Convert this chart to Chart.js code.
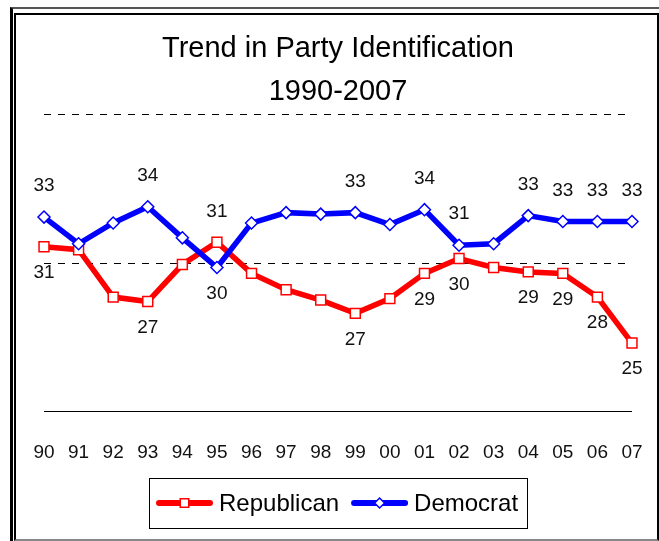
<!DOCTYPE html>
<html>
<head>
<meta charset="utf-8">
<title>Trend in Party Identification</title>
<script src="https://cdn.jsdelivr.net/npm/chart.js@4.4.1/dist/chart.umd.min.js"></script>
<style>
  body { margin: 0; background: #fff; }
  #wrap { position: relative; width: 659px; height: 541px; }
  #wrap canvas { position: absolute; left: 0; top: 0; }
  .frame-outer { position: absolute; left: 10px; top: 7px; width: 649px; height: 534px;
    border-left: 3px solid #000; border-top: 2px solid #555; box-sizing: border-box; }
  .frame-inner { position: absolute; left: 14px; top: 13px; width: 645px; height: 528px;
    border: 2px solid #000; border-bottom-color: #888; box-sizing: border-box; }
</style>
</head>
<body>
<div id="wrap">
  <canvas id="myChart" width="659" height="541"></canvas>
  <div class="frame-outer"></div>
  <div class="frame-inner"></div>
</div>
<script>
const years=["90","91","92","93","94","95","96","97","98","99","00","01","02","03","04","05","06","07"];
const republican=[31.1,30.9,27.7,27.4,29.9,31.4,29.3,28.2,27.5,26.6,27.6,29.3,30.3,29.7,29.4,29.3,27.7,24.6];
const democrat=[33.1,31.3,32.7,33.8,31.7,29.7,32.7,33.4,33.3,33.4,32.6,33.6,31.2,31.3,33.2,32.8,32.8,32.8];
// which points get a value label, and on which side
const repLabels=["b","","","b","","a","","","","b","","b","b","","b","b","b","b"];
const demLabels=["a","","","a","","b","","","","a","","a","a","","a","a","a","a"];
const yTicks=[20,30,40];

const FONT="'Liberation Sans', Arial, sans-serif";
const RED="#ff0000";
const BLUE="#0000ff";

// rounded values over/under the points
const valueLabels={
  id:"valueLabels",
  afterDatasetsDraw(chart){
    const c=chart.ctx;
    c.save();
    c.font="19px "+FONT;
    c.fillStyle="#111";
    c.textAlign="center";
    c.textBaseline="middle";
    chart.data.datasets.forEach((ds,i)=>{
      chart.getDatasetMeta(i).data.forEach((pt,j)=>{
        const side=ds.labelSide[j];
        if(!side) return;
        const dy= side=="a" ? -31 : 26;
        c.fillText(Math.round(ds.data[j]),pt.x,pt.y+dy);
      });
    });
    c.restore();
  }
};

// legend in a box under the axis labels
const boxLegend={
  id:"boxLegend",
  afterDraw(chart){
    const c=chart.ctx;
    c.save();
    c.font="24px "+FONT;
    const lineLen=57, gap=6, itemGap=12, padL=7, padR=9;
    const items=chart.data.datasets.map(ds=>({ds:ds,w:c.measureText(ds.label).width}));
    let total=padL+padR+itemGap*(items.length-1);
    items.forEach(it=>{ total+=lineLen+gap+it.w; });
    const mid=(chart.chartArea.left+chart.chartArea.right)/2;
    let x=Math.round(mid-total/2);
    const top=478, h=50, cy=top+h/2;
    c.strokeStyle="#000";
    c.lineWidth=1;
    c.strokeRect(x+0.5,top+0.5,Math.round(total),h);
    x+=padL;
    items.forEach(it=>{
      const ds=it.ds;
      c.strokeStyle=ds.borderColor;
      c.lineWidth=6;
      c.lineCap="round";
      c.beginPath();
      c.moveTo(x+3,cy);
      c.lineTo(x+lineLen-3,cy);
      c.stroke();
      c.fillStyle="#fff";
      c.lineWidth=ds.pointBorderWidth;
      Chart.helpers.drawPoint(c,{pointStyle:ds.pointStyle,radius:ds.pointRadius-1,borderWidth:ds.pointBorderWidth,rotation:0},x+lineLen/2,cy);
      c.fillStyle="#000";
      c.textAlign="left";
      c.textBaseline="middle";
      c.fillText(ds.label,x+lineLen+gap,cy+1);
      x+=lineLen+gap+it.w+itemGap;
    });
    c.restore();
  }
};

const ctx=document.getElementById("myChart");
const myChart=new Chart(ctx,{
  type:"line",
  data:{
    labels:years,
    datasets:[{
      label:"Republican",
      data:republican,
      labelSide:repLabels,
      order:1,
      borderColor:RED,
      borderWidth:5.5,
      pointStyle:"rect",
      pointRadius:7,
      pointBackgroundColor:"#fff",
      pointBorderColor:RED,
      pointBorderWidth:1.5,
      tension:0
    },{
      label:"Democrat",
      data:democrat,
      labelSide:demLabels,
      order:0,
      borderColor:BLUE,
      borderWidth:5.5,
      pointStyle:"rectRot",
      pointRadius:6,
      pointBackgroundColor:"#fff",
      pointBorderColor:BLUE,
      pointBorderWidth:1.5,
      tension:0
    }]
  },
  options:{
    responsive:false,
    animation:false,
    events:[],
    layout:{padding:{left:44,right:27,top:28,bottom:47}},
    plugins:{
      legend:{display:false},
      tooltip:{enabled:false},
      title:{
        display:true,
        text:["Trend in Party Identification","1990-2007"],
        color:"#000",
        font:{family:FONT,size:29,weight:"normal",lineHeight:1.48},
        padding:{top:0,bottom:1}
      }
    },
    scales:{
      x:{
        offset:false,
        grid:{display:false,drawTicks:false},
        border:{display:false},
        ticks:{color:"#111",font:{family:FONT,size:19},padding:30,maxRotation:0,autoSkip:false},
        // tick padding would otherwise be added to the side padding too
        afterFit(axis){ axis.paddingLeft=0; axis.paddingRight=0; }
      },
      y:{
        min:yTicks[0],
        max:yTicks[yTicks.length-1],
        afterBuildTicks(axis){ axis.ticks=yTicks.map(v=>({value:v})); },
        grid:{color:"#000",lineWidth:1,drawTicks:false},
        border:{display:false,dash:(c)=>c.tick && c.tick.value==yTicks[0] ? [] : [7,7]},
        ticks:{display:false}
      }
    }
  },
  plugins:[valueLabels,boxLegend]
});
</script>
</body>
</html>
